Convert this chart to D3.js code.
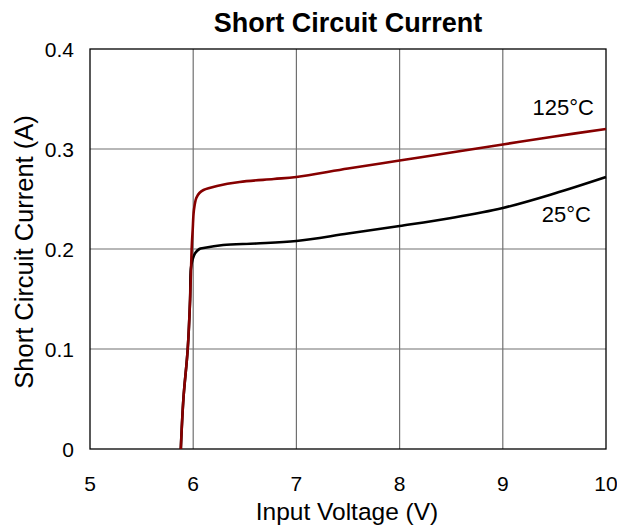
<!DOCTYPE html>
<html>
<head>
<meta charset="utf-8">
<title>Short Circuit Current</title>
<script src="https://cdn.jsdelivr.net/npm/d3@7"></script>
<style>
  body { margin: 0; background: #fff; }
  text { font-family: Arial, "Liberation Sans", Helvetica, sans-serif; fill: #000; }
</style>
</head>
<body>
<script>
  // data
  var xTicks = [5, 6, 7, 8, 9, 10];
  var yTicks = [0, 0.1, 0.2, 0.3, 0.4];
  var yTickLabels = ["0", "0.1", "0.2", "0.3", "0.4"];

  var hotVolts = [5.88, 5.905, 5.947, 5.97, 5.985, 5.995, 6.007, 6.03, 6.06, 6.10, 6.23, 6.45, 6.78, 7.0, 7.5, 8.0, 8.5, 9.0, 9.5, 10.0];
  var hotAmps  = [0, 0.05, 0.1, 0.15, 0.2, 0.219, 0.239, 0.251, 0.256, 0.259, 0.263, 0.267, 0.270, 0.272, 0.2805, 0.2885, 0.2965, 0.3045, 0.3125, 0.320];

  var roomVolts = [5.88, 5.905, 5.947, 5.97, 5.977, 5.995, 6.02, 6.06, 6.10, 6.29, 6.61, 7.0, 7.5, 8.0, 8.5, 9.0, 9.5, 10.0];
  var roomAmps  = [0, 0.05, 0.1, 0.15, 0.18, 0.19, 0.196, 0.2, 0.201, 0.204, 0.2055, 0.208, 0.2155, 0.223, 0.231, 0.241, 0.2555, 0.272];

  var seriesNames = ["125°C", "25°C"];

  var width = 617, height = 527;
  var margin = {top: 49, right: 11, bottom: 78, left: 90};

  var svg = d3.select("body").append("svg")
      .attr("width", width)
      .attr("height", height);

  var x = d3.scaleLinear().domain([5, 10]).range([margin.left, width - margin.right]);
  var y = d3.scaleLinear().domain([0, 0.4]).range([height - margin.bottom, margin.top]);

  // grid
  svg.append("g").selectAll("line.v")
      .data(xTicks.slice(1, -1))
      .enter().append("line")
      .attr("x1", function(d) { return x(d); })
      .attr("x2", function(d) { return x(d); })
      .attr("y1", y(0))
      .attr("y2", y(0.4))
      .attr("stroke", "#707070")
      .attr("stroke-width", 1.2);
  svg.append("g").selectAll("line.h")
      .data(yTicks.slice(1, -1))
      .enter().append("line")
      .attr("x1", x(5))
      .attr("x2", x(10))
      .attr("y1", function(d) { return y(d); })
      .attr("y2", function(d) { return y(d); })
      .attr("stroke", "#707070")
      .attr("stroke-width", 1.2);

  // frame
  svg.append("rect")
      .attr("x", x(5))
      .attr("y", y(0.4))
      .attr("width", x(10) - x(5))
      .attr("height", y(0) - y(0.4))
      .attr("fill", "none")
      .attr("stroke", "#000")
      .attr("stroke-width", 1.3);

  // tick labels
  svg.append("g").selectAll("text")
      .data(xTicks)
      .enter().append("text")
      .attr("x", function(d) { return x(d); })
      .attr("y", 491)
      .attr("text-anchor", "middle")
      .attr("font-size", "21px")
      .text(function(d) { return d; });
  svg.append("g").selectAll("text")
      .data(yTicks)
      .enter().append("text")
      .attr("x", 74)
      .attr("y", function(d) { return y(d); })
      .attr("dy", "0.36em")
      .attr("text-anchor", "end")
      .attr("font-size", "21px")
      .text(function(d, i) { return yTickLabels[i]; });

  // titles
  svg.append("text")
      .attr("x", (x(5) + x(10)) / 2)
      .attr("y", 32)
      .attr("text-anchor", "middle")
      .attr("font-size", "27px")
      .attr("font-weight", "bold")
      .text("Short Circuit Current");
  svg.append("text")
      .attr("x", (x(5) + x(10)) / 2 - 1)
      .attr("y", 520)
      .attr("text-anchor", "middle")
      .attr("font-size", "24.5px")
      .text("Input Voltage (V)");
  svg.append("text")
      .attr("transform", "translate(33," + 252 + ") rotate(-90)")
      .attr("text-anchor", "middle")
      .attr("font-size", "25.5px")
      .text("Short Circuit Current (A)");

  // curves
  var line = d3.line()
      .x(function(d) { return x(d[0]); })
      .y(function(d) { return y(d[1]); })
      .curve(d3.curveCatmullRom.alpha(0.5));

  var hot = d3.zip(hotVolts, hotAmps);
  var room = d3.zip(roomVolts, roomAmps);

  svg.append("path")
      .attr("d", line(room))
      .attr("fill", "none")
      .attr("stroke", "#000")
      .attr("stroke-width", 2.6);
  svg.append("path")
      .attr("d", line(hot))
      .attr("fill", "none")
      .attr("stroke", "#860000")
      .attr("stroke-width", 2.6);

  // series labels
  svg.append("text")
      .attr("x", 594)
      .attr("y", 115)
      .attr("text-anchor", "end")
      .attr("font-size", "22px")
      .text(seriesNames[0]);
  svg.append("text")
      .attr("x", 591)
      .attr("y", 222)
      .attr("text-anchor", "end")
      .attr("font-size", "22px")
      .text(seriesNames[1]);
</script>
</body>
</html>
